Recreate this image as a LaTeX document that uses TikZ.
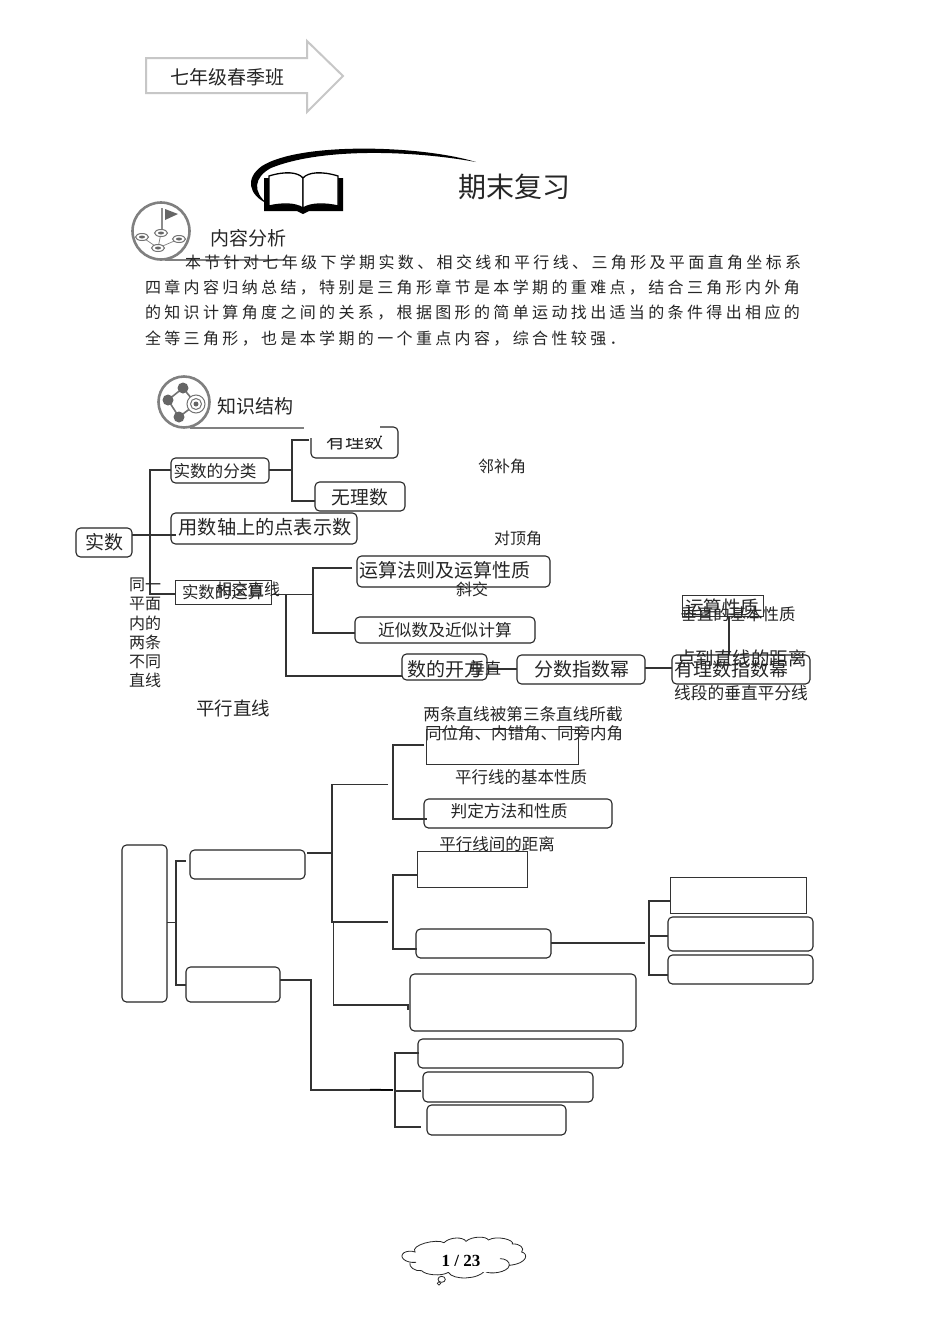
\documentclass[tikz,border=0pt]{standalone}
\usepackage{fontspec}
\setmainfont{Noto Sans CJK SC}
\newfontfamily\serifnum{Liberation Serif}
\newcommand{\pbox}[6]{%
  \pgfmathsetmacro{\bw}{#5-#3}\pgfmathsetmacro{\bh}{#6-#4}%
  \pgfmathsetmacro{\bx}{(#3+#5)/2}\pgfmathsetmacro{\by}{(#4+#6)/2}%
  \node[#2,minimum width=\bw pt,minimum height=\bh pt] (#1) at (\bx,\by) {};}
\tikzset{
  rbox/.style={draw=black!85,line width=1.1pt,rounded corners=4.5pt,inner sep=0pt,outer sep=0pt,fill=none},
  sbox/.style={draw=black!80,line width=.8pt,inner sep=0pt,outer sep=0pt,fill=none},
  lab/.style={inner sep=0pt,outer sep=0pt,text=black!85,font=\fontsize{#1pt}{#1pt}\selectfont},
  conn/.style={draw=black!80,line width=1.1pt},
  icon/.style={draw=black!50,line width=2.6pt},
  para/.style={inner sep=0pt,outer sep=0pt,anchor=west,text=black!85,font=\fontsize{16pt}{18pt}\selectfont\addfontfeature{LetterSpace=21}},
}
\begin{document}
\begin{tikzpicture}[x=1pt,y=-1pt]
\useasboundingbox (0,0) rectangle (950,1344);
\fill[white] (0,0) rectangle (950,1344);

% header arrow
\draw[draw=black!22,line width=2pt,fill=white,line join=miter]
  (146,58) -- (307,58) -- (307,41) -- (343,76) -- (307,112) -- (307,93) -- (146,93) -- cycle;
\node[lab=19] (grade) at (227,77) {七年级春季班};

% swoosh and book
\fill[black] (476,162) .. controls (420,145) and (300,142) .. (262,166)
  .. controls (245,178) and (248,195) .. (268,204)
  .. controls (252,192) and (254,177) .. (271,168)
  .. controls (320,148) and (410,150) .. (476,162) -- cycle;
\fill[black] (264,178) -- (343,178) -- (343,211) -- (309,211) -- (303,214) -- (297,211) -- (264,211) -- cycle;
\draw[black,line width=1.3pt,fill=white] (269,176) .. controls (285,171) and (298,172) .. (303,178) -- (303,208)
  .. controls (295,203) and (282,203) .. (269,206) -- cycle;
\draw[black,line width=1.3pt,fill=white] (338,176) .. controls (322,171) and (308,172) .. (303,178) -- (303,208)
  .. controls (311,203) and (325,203) .. (338,206) -- cycle;
\node[lab=28] (title) at (514,187) {期末复习};

% icon 1
\draw[icon] (161,231) circle (28.5);
\draw[icon] (165,260) -- (286,260);
\draw[draw=black!45,line width=2pt] (162,208) -- (162,232);
\fill[black!60] (165,209) -- (178,214) -- (165,220) -- cycle;
\draw[black!50,line width=.7pt] (161,233) -- (158,248) (142,237) -- (158,248) (179,239) -- (158,248);
\foreach \p/\q in {161/233,142/237,179/239,158/248}{
  \draw[black!55,line width=1pt,fill=white] (\p,\q) ellipse (6.5 and 3.5);
  \fill[black!60] (\p,\q) ellipse (3 and 1.5);}
\node[lab=19] (ana) at (248,238) {内容分析};

% paragraph
\node[para] (p1) at (185,262.5) {本节针对七年级下学期实数、相交线和平行线、三角形及平面直角坐标系};
\node[para] (p2) at (145,287.5) {四章内容归纳总结，特别是三角形章节是本学期的重难点，结合三角形内外角};
\node[para] (p3) at (145,312.5) {的知识计算角度之间的关系，根据图形的简单运动找出适当的条件得出相应的};
\node[para] (p4) at (145,338.5) {全等三角形，也是本学期的一个重点内容，综合性较强．};

% icon 2
\draw[icon] (184,402) circle (25.5);
\draw[icon] (190,428) -- (304,428);
\draw[black!55,line width=1.6pt] (183,388) -- (168,400) -- (179,417) -- (196,404) -- (183,388);
\fill[black!60] (183,388) circle (5.5) (168,400) circle (5.5) (179,417) circle (5.5);
\draw[black!55,line width=1pt,fill=white] (196,404) circle (9);
\draw[black!55,line width=1pt] (196,404) circle (5.5);
\fill[black!60] (196,404) circle (2.5);
\node[lab=19] (kn) at (255,406) {知识结构};

% ---------- upper diagram ----------
\pbox{youli}{rbox}{311}{427}{398}{458}
\node[lab=19] (tyouli) at (355,441) {有理数};
\fill[white] (305,418) rectangle (380,438);
\pbox{fenlei}{rbox}{171}{458}{269}{483}
\pbox{wuli}{rbox}{315}{482}{405}{511}
\pbox{zhou}{rbox}{171}{513}{357}{544}
\pbox{shishu}{rbox}{76}{528}{132}{557}
\pbox{yunsuan}{sbox}{175}{580}{271}{604}
\pbox{fazhe}{rbox}{357}{556}{550}{587}
\pbox{jinsi}{rbox}{355}{617}{535}{643}
\pbox{kaifang}{rbox}{402}{654}{487}{680}
\pbox{fenshu}{rbox}{517}{655}{645}{684}
\pbox{youzhi}{rbox}{672}{655}{810}{684}
\pbox{xingzhi}{sbox}{682}{595}{763}{616}

\coordinate (a0) at (132,535);
\coordinate (a1) at (176,535);
\coordinate (a2) at (150,470);
\coordinate (a3) at (150,594);
\coordinate (a4) at (171,470);
\coordinate (a5) at (175,594);
\draw[conn] (a0) -- (a1);
\draw[conn] (a4) -- (a2) -- (a3) -- (a5);

\coordinate (b0) at (269,470);
\coordinate (b1) at (292,470);
\coordinate (b2) at (292,440);
\coordinate (b3) at (309,440);
\coordinate (b4) at (292,501);
\coordinate (b5) at (315,501);
\draw[conn] (b0) -- (b1);
\draw[conn] (b3) -- (b2) -- (b4) -- (b5);

\coordinate (c0) at (271,594.5);
\coordinate (c1) at (313,594.5);
\coordinate (c2) at (313,568);
\coordinate (c3) at (352,568);
\coordinate (c4) at (313,633);
\coordinate (c5) at (355,633);
\coordinate (c6) at (286,594.5);
\coordinate (c7) at (286,676);
\coordinate (c8) at (402,676);
\draw[conn,line width=1.7pt] (c0) -- (c1);
\draw[conn] (c3) -- (c2) -- (c4) -- (c5);
\draw[conn] (c6) -- (c7) -- (c8);

\coordinate (d0) at (487,669);
\coordinate (d1) at (517,669);
\draw[conn] (d0) -- (d1);
\coordinate (d2) at (645,668);
\coordinate (d3) at (672,668);
\draw[conn] (d2) -- (d3);
\draw[conn] (xingzhi.south -| 729,0) -- (729,655) coordinate (d4);

\node[lab=16.6] (tfen) at (215,471) {实数的分类};
\node[lab=18.8] (twu) at (360,497) {无理数};
\node[lab=19.2] (tzhou) at (265,527) {用数轴上的点表示数};
\node[lab=19] (tshi) at (104,542) {实数};
\node[lab=16.4] (tyun) at (223,592) {实数的运算};
\node[lab=19] (tfa) at (445,570) {运算法则及运算性质};
\node[lab=16.7] (tjin) at (445,630) {近似数及近似计算};
\node[lab=19] (tkai) at (445,669) {数的开方};
\node[lab=19] (tfs) at (582,669) {分数指数幂};
\node[lab=19] (tyz) at (731,669) {有理数指数幂};
\node[lab=18.5] (txz) at (722,607) {运算性质};

\node[lab=16] (l1) at (502,466) {邻补角};
\node[lab=16] (l2) at (518,538) {对顶角};
\node[lab=16] (l3) at (472,589) {斜交};
\node[lab=16] (l4) at (248,589) {相交直线};
\node[lab=16,align=center,font=\fontsize{16pt}{19.2pt}\selectfont] (l5) at (145,633) {同一\\平面\\内的\\两条\\不同\\直线};
\node[lab=16] (l6) at (485,668) {垂直};
\node[lab=18.5] (l7) at (233,708) {平行直线};
\node[lab=16.4] (l8) at (738,614) {垂直的基本性质};
\node[lab=18.5] (l9) at (742,658) {点到直线的距离};
\node[lab=16.7] (l10) at (741,693) {线段的垂直平分线};
\node[lab=16.6] (l11) at (523,714) {两条直线被第三条直线所截};
\node[lab=16.5] (l12) at (524,733) {同位角、内错角、同旁内角};
\node[lab=16.5] (l13) at (521,777) {平行线的基本性质};
\node[lab=16.7] (l14) at (509,811) {判定方法和性质};
\node[lab=16.5] (l15) at (497,844) {平行线间的距离};

% ---------- lower diagram ----------
\pbox{tongwei}{sbox}{426}{729}{578}{764}
\pbox{panding}{rbox}{424}{799}{612}{828}
\pbox{big}{rbox}{122}{845}{167}{1002}
\pbox{ba}{rbox}{190}{850}{305}{879}
\pbox{bb}{rbox}{186}{967}{280}{1002}
\pbox{sq}{sbox}{417}{851}{527}{887}
\pbox{mid}{rbox}{416}{929}{551}{958}
\pbox{r1}{sbox}{670}{877}{806}{913}
\pbox{r2}{rbox}{668}{917}{813}{951}
\pbox{r3}{rbox}{668}{955}{813}{984}
\pbox{wide}{rbox}{410}{974}{636}{1031}
\pbox{b1box}{rbox}{418}{1039}{623}{1068}
\pbox{b2box}{rbox}{423}{1072}{593}{1102}
\pbox{b3box}{rbox}{427}{1105}{566}{1135}

\coordinate (e0) at (167,922.5);
\coordinate (e1) at (176,922.5);
\coordinate (e2) at (176,861);
\coordinate (e3) at (186,861);
\coordinate (e4) at (176,985);
\coordinate (e5) at (186,985);
\draw[conn,line width=1.8pt] (e0) -- (e1);
\draw[conn] (e3) -- (e2) -- (e4) -- (e5);

\coordinate (f0) at (307,853);
\coordinate (f1) at (332,853);
\coordinate (f2) at (332,784.5);
\coordinate (f3) at (388,784.5);
\coordinate (f4) at (332,922);
\coordinate (f5) at (388,922);
\coordinate (f6) at (333.5,1005);
\coordinate (f7) at (408,1005);
\coordinate (f8) at (408,1010);
\coordinate (f9) at (333.5,922);
\draw[conn,line width=1.8pt] (f0) -- (f1);
\draw[conn] (f3) -- (f2) -- (f4) -- (f5);
\draw[conn] (f9) -- (f6) -- (f7) -- (f8);

\coordinate (g1) at (424,745);
\coordinate (g2) at (393,745);
\coordinate (g3) at (393,819);
\coordinate (g4) at (427,819);
\draw[conn] (g1) -- (g2) -- (g3) -- (g4);

\coordinate (h1) at (417,875);
\coordinate (h2) at (393,875);
\coordinate (h3) at (393,949);
\coordinate (h4) at (417,949);
\draw[conn] (h1) -- (h2) -- (h3) -- (h4);

\coordinate (i0) at (551,943);
\coordinate (i1) at (645,943);
\coordinate (i2) at (670,901);
\coordinate (i3) at (649,901);
\coordinate (i4) at (649,975);
\coordinate (i5) at (668,975);
\coordinate (i6) at (649,936);
\coordinate (i7) at (668,936);
\draw[conn] (i0) -- (i1);
\draw[conn] (i2) -- (i3) -- (i4) -- (i5);
\draw[conn] (i6) -- (i7);

\coordinate (k0) at (280,980);
\coordinate (k1) at (311,980);
\coordinate (k2) at (311,1090);
\coordinate (k3) at (393,1090);
\coordinate (k4) at (370,1089.5);
\draw[conn] (k0) -- (k1) -- (k2) -- (k3);
\draw[conn,line width=1.5pt,draw=black] (k4) -- (k3);
\coordinate (m1) at (419,1053);
\coordinate (m2) at (395,1053);
\coordinate (m3) at (395,1127);
\coordinate (m4) at (421,1127);
\coordinate (m5) at (395,1091);
\coordinate (m6) at (421,1091);
\draw[conn] (m1) -- (m2) -- (m3) -- (m4);
\draw[conn] (m5) -- (m6);

% ---------- page-number cloud ----------
\begin{scope}[shift={(380,1220)},x=0.3333pt,y=-0.3333pt]
\draw[black!85,line width=.8pt]
  (108,127) .. controls (75,130) and (55,110) .. (72,98)
  .. controls (80,93) and (95,92) .. (105,96)
  .. controls (90,75) and (170,55) .. (192,68)
  .. controls (210,50) and (250,50) .. (258,64)
  .. controls (275,48) and (320,48) .. (325,60)
  .. controls (350,45) and (405,60) .. (397,72)
  .. controls (420,70) and (435,85) .. (425,96)
  .. controls (445,100) and (445,130) .. (388,136)
  .. controls (390,125) and (375,115) .. (360,116);
\draw[black!85,line width=.8pt]
  (388,136) .. controls (385,158) and (325,165) .. (314,153)
  .. controls (295,178) and (220,182) .. (205,157)
  .. controls (185,170) and (135,165) .. (125,152)
  .. controls (105,155) and (85,140) .. (90,128);
\draw[black!85,line width=.8pt,fill=white] (185,178) circle (11 and 9);
\draw[black!85,line width=.7pt] (177,190) circle (5);
\end{scope}
\node[inner sep=0pt,text=black,font=\fontsize{17pt}{17pt}\selectfont\serifnum\bfseries] (pg) at (461,1261) {1 / 23};
\fill[white] (435,1266) rectangle (490,1272);
\end{tikzpicture}
\end{document}
